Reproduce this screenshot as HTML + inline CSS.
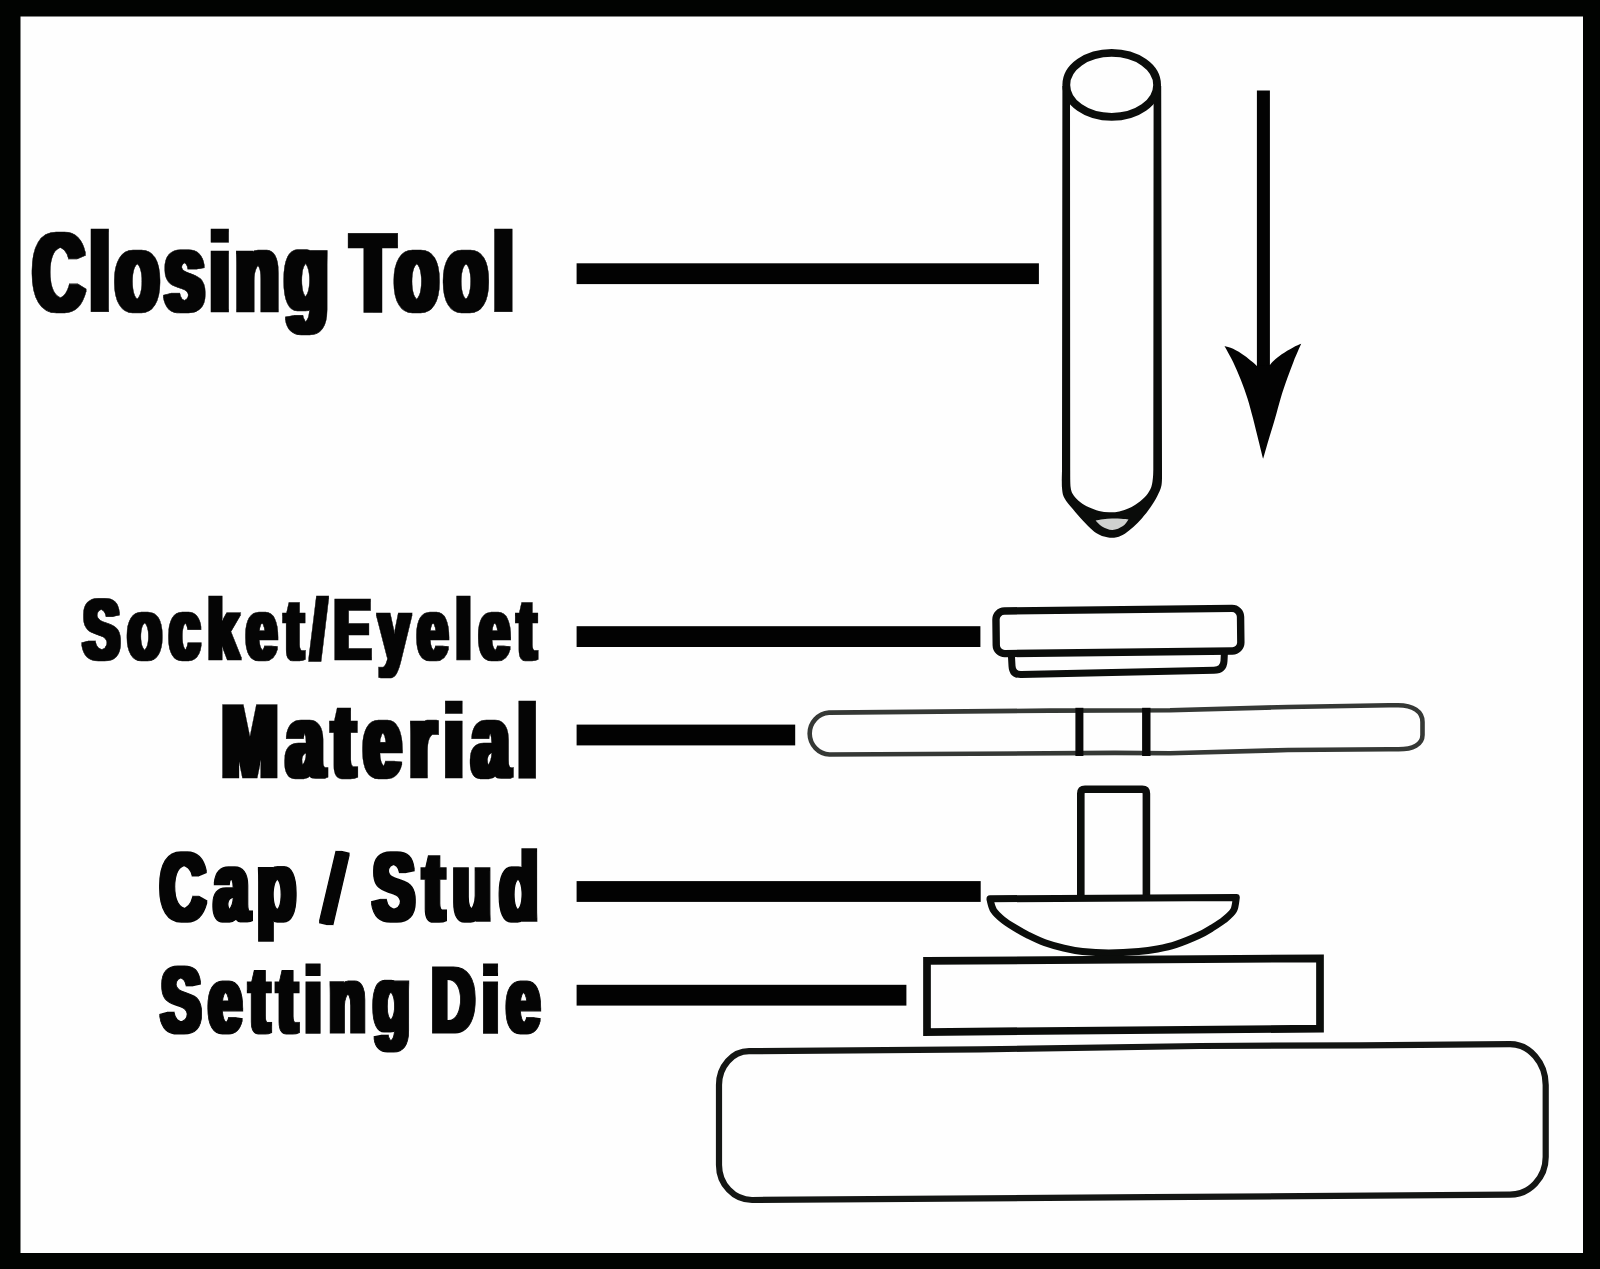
<!DOCTYPE html>
<html lang="en">
<head>
<meta charset="utf-8">
<title>Snap Fastener Setting Diagram</title>
<style>
  html, body { margin: 0; padding: 0; background: #010301; }
  body { width: 1600px; height: 1269px; overflow: hidden; position: relative; }
  svg { position: absolute; left: 0; top: 0; display: block; }
  text {
    font-family: "Liberation Sans", sans-serif;
    font-weight: bold;
    fill: #050505;
    stroke: #050505;
    stroke-linejoin: miter;
    stroke-miterlimit: 3;
    paint-order: stroke fill;
  }
  .ln { fill: none; stroke: #0b0d0b; stroke-width: 7; stroke-linecap: round; stroke-linejoin: round; }
  .thin { fill: none; stroke: #353835; stroke-width: 4.6; stroke-linecap: round; stroke-linejoin: round; }
  .lead { fill: #020202; }
</style>
</head>
<body>
<svg width="1600" height="1269" viewBox="0 0 1600 1269">
  <defs>
  <filter id="ft1" x="-5%" y="-30%" width="110%" height="160%" color-interpolation-filters="sRGB"><feMorphology operator="dilate" radius="4 1"/></filter>
  <filter id="ft2" x="-5%" y="-30%" width="110%" height="160%" color-interpolation-filters="sRGB"><feMorphology operator="dilate" radius="3 1"/></filter>
  <filter id="ft3" x="-5%" y="-30%" width="110%" height="160%" color-interpolation-filters="sRGB"><feMorphology operator="dilate" radius="4 1"/></filter>
  <filter id="ft4" x="-5%" y="-30%" width="110%" height="160%" color-interpolation-filters="sRGB"><feMorphology operator="dilate" radius="3 1"/></filter>
  <filter id="ft5" x="-5%" y="-30%" width="110%" height="160%" color-interpolation-filters="sRGB"><feMorphology operator="dilate" radius="3 1"/></filter>
  <filter id="soft" x="0" y="0" width="1600" height="1269" filterUnits="userSpaceOnUse" color-interpolation-filters="sRGB"><feGaussianBlur stdDeviation="0.7"/></filter>
  </defs>
  <g filter="url(#soft)">
  <!-- frame -->
  <rect x="0" y="0" width="1600" height="1269" fill="#010301"/>
  <rect x="20.5" y="16.5" width="1562.5" height="1236.5" fill="#fefefe"/>

  <!-- leader lines -->
  <rect class="lead" x="576.6" y="263.3" width="462.3" height="20.8"/>
  <rect class="lead" x="576.6" y="626.2" width="403.8" height="20.8"/>
  <rect class="lead" x="576.6" y="724.6" width="218.6" height="20.8"/>
  <rect class="lead" x="576.6" y="881.1" width="404.1" height="20.8"/>
  <rect class="lead" x="576.6" y="984.8" width="329.8" height="20.8"/>

  <!-- labels -->
  <g filter="url(#ft1)"><text id="t1" transform="translate(33.00 310.70) scale(0.6382 1)" font-size="111.18" letter-spacing="9.14" word-spacing="-13" stroke-width="0.6">Closing Tool</text></g>
  <g filter="url(#ft2)"><text id="t2" transform="translate(83.00 658.70) scale(0.6452 1)" font-size="85.69" letter-spacing="12.06" word-spacing="0" stroke-width="0.6">Socket/Eyelet</text></g>
  <g filter="url(#ft3)"><text id="t3" transform="translate(222.00 776.80) scale(0.6377 1)" font-size="104.77" letter-spacing="13.89" word-spacing="0" stroke-width="0.4">Material</text></g>
  <g filter="url(#ft4)"><text id="t4" transform="translate(160.00 919.60) scale(0.6522 1)" font-size="96.64" letter-spacing="12.87" word-spacing="-7" stroke-width="1.6">Cap <tspan rotate="9" dx="-5">/</tspan><tspan dx="5"> Stud</tspan></text></g>
  <g filter="url(#ft5)"><text id="t5" transform="translate(161.00 1032.00) scale(0.6497 1)" font-size="92.20" letter-spacing="11.77" word-spacing="-16" stroke-width="1.2">Setting Die</text></g>

  <!-- closing tool -->
  <g id="tool">
    <path d="M1062.4,86 L1062,470 C1062.0,473.0 1061.6,483.1 1062.0,487.8 C1062.4,492.5 1062.6,494.5 1064.4,498.0 C1066.2,501.5 1069.7,505.2 1072.8,509.0 C1075.9,512.8 1079.8,517.3 1083.0,520.8 C1086.2,524.3 1089.5,527.6 1092.3,530.0 C1095.1,532.4 1097.2,533.8 1099.9,535.1 C1102.6,536.4 1105.5,537.2 1108.3,537.6 C1111.1,538.0 1113.9,537.9 1116.7,537.2 C1119.5,536.5 1122.4,535.1 1125.2,533.4 C1128.0,531.6 1130.8,529.2 1133.6,526.7 C1136.4,524.2 1139.2,521.4 1142.0,518.2 C1144.8,515.0 1148.0,511.0 1150.5,507.3 C1153.0,503.6 1155.4,500.0 1157.2,496.3 C1159.0,492.6 1160.7,489.7 1161.5,485.3 C1162.3,480.9 1161.9,472.6 1162.0,470.0 L1161.2,86 L1153.6,86 L1153.3,470 C1153.2,471.1 1153.3,474.1 1153.0,476.9 C1152.7,479.7 1152.4,483.9 1151.3,487.0 C1150.2,490.1 1148.5,492.7 1146.3,495.4 C1144.0,498.1 1140.6,500.9 1137.8,503.0 C1135.0,505.1 1132.5,506.7 1129.4,508.1 C1126.3,509.5 1122.7,510.8 1119.3,511.5 C1115.9,512.2 1112.5,512.4 1109.1,512.3 C1105.7,512.2 1102.4,511.8 1099.0,511.0 C1095.6,510.2 1092.0,508.8 1088.9,507.3 C1085.8,505.8 1082.9,504.2 1080.4,502.2 C1077.9,500.2 1075.3,497.8 1073.7,495.4 C1072.1,493.0 1071.3,492.0 1070.7,487.8 C1070.1,483.6 1070.3,473.0 1070.2,470.0 L1070,86 Z" fill="#0a0c0a"/>
    <path d="M1095.6,520.5 C1096.8,520.3 1100.3,519.5 1103.0,519.2 C1105.7,518.9 1109.0,518.7 1112.0,518.6 C1115.0,518.5 1118.2,518.6 1121.0,518.8 C1123.8,518.9 1127.2,519.4 1128.5,519.5 C1127.6,520.6 1125.7,524.2 1123.0,526.0 C1120.3,527.8 1116.0,529.9 1112.5,530.0 C1109.0,530.1 1104.8,528.1 1102.0,526.5 C1099.2,524.9 1096.7,521.5 1095.6,520.5 Z" fill="#cfd1cf"/>
    <ellipse class="ln" style="stroke-width:7.8" cx="1111.7" cy="84.9" rx="45.4" ry="32"/>
  </g>

  <!-- arrow -->
  <g id="arrow" fill="#030303">
    <rect x="1256.9" y="90.5" width="13" height="290"/>
    <path d="M1263.1,458.8 C1262.3,455.7 1260.2,447.1 1258.5,440.4 C1256.8,433.6 1254.8,425.3 1253.0,418.3 C1251.2,411.3 1249.5,404.8 1247.5,398.4 C1245.5,392.0 1243.2,385.8 1240.8,379.7 C1238.4,373.6 1235.8,367.6 1233.1,362.0 C1230.4,356.4 1225.9,348.7 1224.5,346.0 C1225.9,346.5 1229.8,347.2 1233.1,348.8 C1236.4,350.4 1241.1,353.3 1244.2,355.4 C1247.3,357.5 1249.8,359.8 1251.9,361.6 C1254.0,363.4 1256.1,365.3 1256.9,366.0 L1269.9,365 C1270.6,364.3 1272.0,362.4 1274.0,360.6 C1276.0,358.8 1278.6,356.5 1281.7,354.3 C1284.8,352.1 1289.5,349.4 1292.7,347.7 C1296.0,345.9 1299.8,344.4 1301.2,343.8 C1300.0,346.6 1296.1,355.1 1293.8,360.9 C1291.5,366.7 1289.4,372.4 1287.2,378.6 C1285.0,384.9 1282.6,391.8 1280.6,398.4 C1278.6,405.0 1277.1,411.3 1275.1,418.3 C1273.1,425.3 1270.4,433.6 1268.4,440.4 C1266.4,447.1 1264.0,455.7 1263.1,458.8 Z"/>
  </g>

  <!-- socket / eyelet -->
  <g id="socket">
    <path class="ln" d="M1011.5,657 L1012,666 Q1012.5,675 1021.5,674.6 L1214,670.3 Q1223.5,670 1224,661 L1224.5,651"/>
    <rect class="ln" x="996.1" y="609.7" width="244.6" height="42.6" rx="8.5" ry="8.5" style="fill:#fefefe;stroke-width:7.4" transform="rotate(-0.66 1118.4 631)"/>
  </g>

  <!-- material -->
  <g id="material">
    <path class="thin" d="M829,712.6 L1050,710.6 L1170,710.2 L1288,707 L1389,705.3 L1398,705.2 C1413,705.2 1422.5,711.5 1422.5,722 L1422.5,735 C1422.5,744.5 1413,749.4 1398,749.3 L1389,749.2 L1288,750 L1170,753.3 L1115,752.9 L829.5,754.5 A21,21 0 0 1 829,712.6 Z"/>
    <path d="M1079.4,707.8 L1079.4,756" stroke="#080808" stroke-width="8" fill="none"/>
    <path d="M1146.3,707.8 L1146.3,756" stroke="#080808" stroke-width="8.4" fill="none"/>
  </g>

  <!-- cap / stud -->
  <g id="cap">
    <path class="ln" d="M1080.8,897 L1080.8,793.5 Q1080.8,789.2 1085,789.2 L1142.2,789.2 Q1146.4,789.2 1146.4,793.5 L1146.4,897" style="stroke-linejoin:miter;stroke-width:7.6"/>
    <path class="ln" style="stroke-width:7" d="M990,898.8 L1236.3,897.4 C1235.8,900.5 1235.6,906.8 1233.6,910.4 C1231.6,914.0 1227.8,916.9 1224.1,919.9 C1220.4,922.9 1215.7,925.7 1211.5,928.3 C1207.3,930.9 1204.8,932.6 1198.9,935.3 C1193.0,938.0 1183.2,942.1 1176.3,944.4 C1169.4,946.7 1163.8,947.8 1157.5,949.0 C1151.2,950.2 1146.9,950.9 1138.8,951.6 C1130.7,952.3 1118.2,953.0 1108.8,953.0 C1099.4,953.0 1090.0,952.4 1082.5,951.6 C1075.0,950.8 1070.0,949.7 1063.8,948.2 C1057.5,946.7 1050.9,944.9 1045.0,942.8 C1039.1,940.6 1033.2,937.7 1028.3,935.3 C1023.4,932.9 1019.9,930.9 1015.7,928.3 C1011.5,925.7 1006.7,922.9 1003.0,919.9 C999.3,916.9 995.8,913.8 993.6,910.4 C991.4,907.0 990.6,901.3 990.0,899.5 Z"/>
  </g>

  <!-- setting die -->
  <path id="die" class="ln" style="stroke-linejoin:miter;stroke-width:7.7" d="M927,960.9 L1320,958.3 L1320,1028.6 L927,1032 Z"/>

  <!-- base -->
  <path id="base" class="ln" style="stroke-width:6.2;stroke:#141614" d="M749,1051.2 L980,1049.4 L1200,1046 L1360,1045.3 L1510,1044.2 C1529.6,1044.2 1545.7,1062.6 1545.7,1085 L1545.7,1157 C1545.7,1177.7 1529.6,1194.7 1510,1194.7 L1150,1197.2 L752,1200 C733.8,1200 719,1184.3 719,1165 L719,1085 C719,1066.4 732.5,1051.2 749,1051.2 Z"/>
  </g>
</svg>
</body>
</html>
